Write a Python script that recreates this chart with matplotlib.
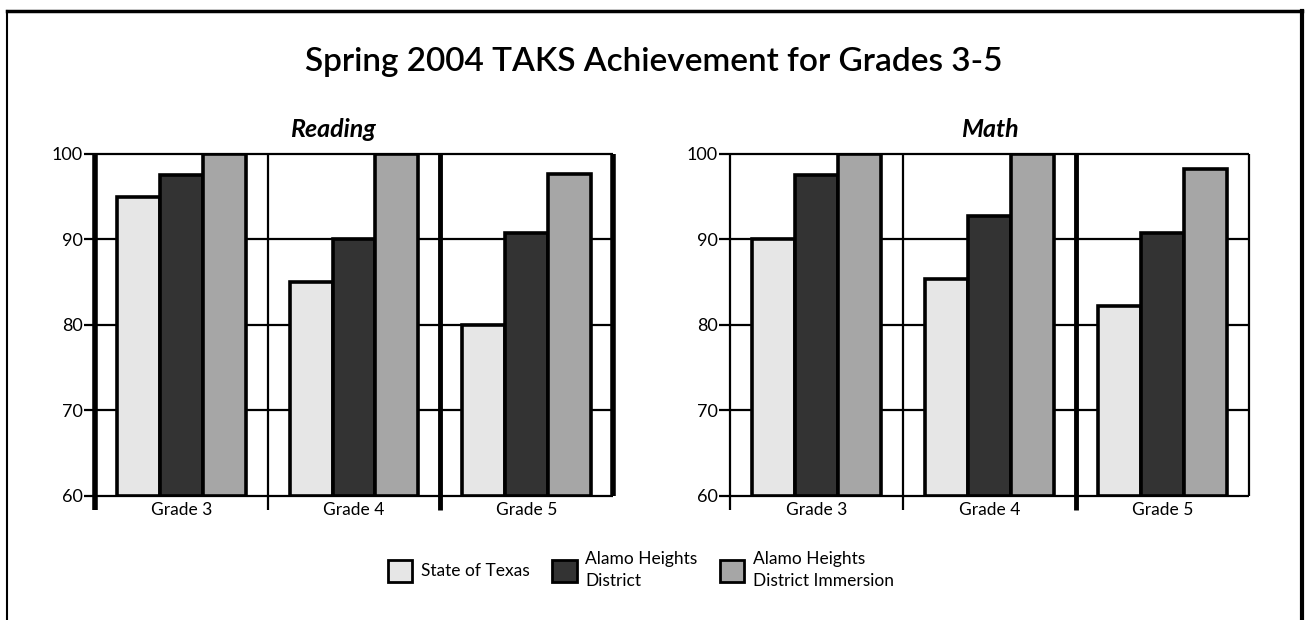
import matplotlib

matplotlib.use("Agg")
import matplotlib.pyplot as plt
import numpy as np
from matplotlib.lines import Line2D
from matplotlib.patches import Patch

plt.rcParams["font.family"] = ["Lato", "DejaVu Sans"]

grades = ["Grade 3", "Grade 4", "Grade 5"]
series = ["State of Texas", "Alamo Heights\nDistrict", "Alamo Heights\nDistrict Immersion"]
colors = ["#e6e6e6", "#333333", "#a6a6a6"]

reading_texas = [95, 85, 80]
reading_district = [97.5, 90, 90.8]
reading_immersion = [100, 100, 97.7]

math_texas = [90, 85.4, 82.2]
math_district = [97.5, 92.8, 90.8]
math_immersion = [100, 100, 98.2]

W, H = 1307, 620
fig = plt.figure(figsize=(W / 100, H / 100), dpi=100)


def panel(rect, title, title_x, values, sep_widths):
    ax = fig.add_axes(rect)
    x = np.arange(len(grades))
    bw = 0.249
    for i, (vals, c) in enumerate(zip(values, colors)):
        ax.bar(x + (i - 1) * bw, np.array(vals) - 60, bottom=60, width=bw,
               color=c, edgecolor="black", linewidth=2.6, zorder=3)
    ax.set_xlim(-0.5, 2.5)
    ax.set_ylim(60, 100)
    for s in ax.spines.values():
        s.set_visible(False)
    # horizontal grid + frame lines
    ax.hlines([60, 70, 80, 90, 100], -0.5, 2.5, colors="black", lw=1.6, zorder=1,
              clip_on=False)
    # vertical separators (extend below axis like ticks)
    for xs, lw, ext in zip([-0.5, 0.5, 1.5, 2.5], sep_widths, [True, True, True, False]):
        ax.plot([xs, xs], [58.4 if ext else 60, 100], color="black", lw=lw,
                zorder=4, clip_on=False, solid_capstyle="butt")
    ax.set_yticks([60, 70, 80, 90, 100])
    ax.set_yticklabels(["60", "70", "80", "90", "100"], fontsize=13)
    ax.tick_params(axis="y", length=8, width=1.6, pad=1)
    ax.set_xticks(x)
    ax.set_xticklabels(grades, fontsize=12.5)
    ax.tick_params(axis="x", length=0, pad=4)
    ax.set_title(title, x=title_x, fontsize=18, fontweight="bold", style="italic", pad=12)
    return ax


panel([95 / W, 0.2, 518 / W, 342 / H], "Reading", 0.46,
      [reading_texas, reading_district, reading_immersion], [4, 1.6, 3.5, 4])
panel([730 / W, 0.2, 519 / W, 342 / H], "Math", 0.5,
      [math_texas, math_district, math_immersion], [1.6, 1.6, 3.5, 1.6])

fig.text(0.5, 1 - 62 / H, "Spring 2004 TAKS Achievement for Grades 3-5",
         ha="center", va="center", fontsize=24, fontweight="semibold")

handles = [Patch(facecolor=c, edgecolor="black", linewidth=2) for c in colors]
leg = fig.legend(handles, series, loc="center", bbox_to_anchor=(0.4905, 1 - 570 / H),
                 ncol=3, frameon=False, fontsize=12.5, handlelength=1.4,
                 handleheight=1.6, columnspacing=1.3, handletextpad=0.5)
for t in leg.get_texts():
    t.set_linespacing(1.5)

# outer frame (open at the bottom)
fig.add_artist(Line2D([7 / W, 7 / W], [0, 1 - 11 / H], color="black", lw=1.5))
fig.add_artist(Line2D([7 / W, 1302 / W], [1 - 11 / H, 1 - 11 / H], color="black", lw=2.5))
fig.add_artist(Line2D([1302 / W, 1302 / W], [0, 1 - 11 / H], color="black", lw=3))

fig.savefig("out.png", dpi=100)
